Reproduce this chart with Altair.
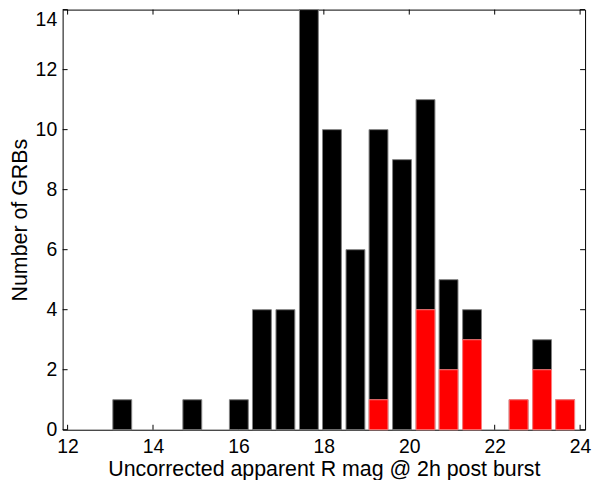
import altair as alt
import pandas as pd

# histogram bin centres (R mag) and counts
centers = [13.28, 13.82, 14.37, 14.92, 15.46, 16.01, 16.55, 17.10, 17.65, 18.19,
           18.74, 19.28, 19.83, 20.38, 20.92, 21.47, 22.01, 22.56, 23.11, 23.65]
total_counts = [1, 0, 0, 1, 0, 1, 4, 4, 14, 10, 6, 10, 9, 11, 5, 4, 0, 1, 3, 1]
red_counts = [0, 0, 0, 0, 0, 0, 0, 0, 0, 0, 0, 1, 0, 4, 2, 3, 0, 1, 2, 1]

x_ticks = [12, 14, 16, 18, 20, 22, 24]
y_ticks = [0, 2, 4, 6, 8, 10, 12, 14]

W, H = 526, 423
FONT = "Liberation Sans"
TICK_FS = 19.5
TITLE_FS = 21.5

df = pd.DataFrame({"c": centers, "total": total_counts, "red": red_counts})
xt = pd.DataFrame({"v": x_ticks})
yt = pd.DataFrame({"v": y_ticks})

xscale = alt.Scale(domain=[12, 24], nice=False, zero=False)
yscale = alt.Scale(domain=[0, 14], nice=False)

xaxis = alt.Axis(values=x_ticks, format="d", domain=False, ticks=False, grid=False,
                 labelFont=FONT, labelFontSize=TICK_FS, labelColor="black", labelPadding=8,
                 title="Uncorrected apparent R mag @ 2h post burst",
                 titleFont=FONT, titleFontSize=TITLE_FS, titleFontWeight="normal", titleColor="black",
                 titleY=46, titleBaseline="alphabetic")
yaxis = alt.Axis(values=y_ticks, format="d", domain=False, ticks=False, grid=False,
                 labelFont=FONT, labelFontSize=TICK_FS, labelColor="black", labelPadding=6,
                 labelOffset=alt.condition("datum.value == 14", alt.value(10), alt.value(0)),
                 title="Number of GRBs",
                 titleFont=FONT, titleFontSize=TITLE_FS, titleFontWeight="normal", titleColor="black",
                 titleX=-42, titleY=H / 2, titleAlign="center", titleBaseline="middle", titleAngle=-90)

# inward tick marks (bottom/top, left/right)
xt_bot = alt.Chart(xt).mark_rule(color="black", strokeWidth=1).encode(
    x=alt.X("v:Q", scale=xscale, axis=xaxis), y=alt.value(H), y2=alt.value(H - 5))
xt_top = alt.Chart(xt).mark_rule(color="black", strokeWidth=1).encode(
    x=alt.X("v:Q", scale=xscale), y=alt.value(0), y2=alt.value(5))
yt_left = alt.Chart(yt).mark_rule(color="black", strokeWidth=1).encode(
    y=alt.Y("v:Q", scale=yscale, axis=yaxis), x=alt.value(0), x2=alt.value(5))
yt_right = alt.Chart(yt).mark_rule(color="black", strokeWidth=1).encode(
    y=alt.Y("v:Q", scale=yscale), x=alt.value(W - 5), x2=alt.value(W))

black_bars = alt.Chart(df).transform_filter("datum.total > 0").mark_bar(
    size=19, color="black", stroke="#808080", strokeWidth=1).encode(
    x=alt.X("c:Q", scale=xscale), y=alt.Y("total:Q", scale=yscale))
red_bars = alt.Chart(df).transform_filter("datum.red > 0").mark_bar(
    size=19, color="#ff0000", stroke="#ff8080", strokeWidth=1).encode(
    x=alt.X("c:Q", scale=xscale), y=alt.Y("red:Q", scale=yscale))

chart = alt.layer(xt_bot, xt_top, yt_left, yt_right, black_bars, red_bars).properties(
    width=W, height=H,
    autosize=alt.AutoSizeParams(type="none"),
    padding={"left": 55, "top": 0, "right": 10, "bottom": 49},
    background="white",
).configure_view(stroke="black", strokeWidth=1)

chart.save("out.html", embed_options={"renderer": "svg", "actions": False})
